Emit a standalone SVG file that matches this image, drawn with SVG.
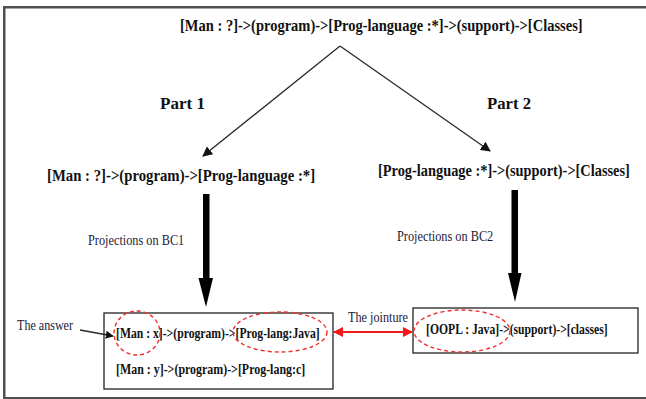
<svg xmlns="http://www.w3.org/2000/svg" width="646" height="399" viewBox="0 0 646 399">
<style>
.big{font-family:"Liberation Serif","Times New Roman",serif;font-weight:bold;fill:#111;}
.lbl{font-family:"Liberation Serif","Times New Roman",serif;fill:#1e1838;}
.box{fill:#fff;stroke:#222;stroke-width:1.3;}
.ell{fill:none;stroke:#f03030;stroke-width:1.4;stroke-dasharray:4 3;}
.thin{stroke:#2a2a2a;stroke-width:1.3;fill:none;}
</style>
<defs>
<marker id="ah" viewBox="0 0 10 10" refX="9" refY="5" markerWidth="10" markerHeight="10" markerUnits="userSpaceOnUse" orient="auto"><path d="M0,0 L10,5 L0,10 Z" fill="#111"/></marker>
<marker id="ahs" viewBox="0 0 10 10" refX="9" refY="5" markerWidth="8" markerHeight="8" markerUnits="userSpaceOnUse" orient="auto"><path d="M0,0 L10,5 L0,10 Z" fill="#111"/></marker>
<marker id="rh" viewBox="0 0 10 10" refX="9" refY="5" markerWidth="10" markerHeight="10" markerUnits="userSpaceOnUse" orient="auto-start-reverse"><path d="M0,0 L10,5 L0,10 Z" fill="#f01818"/></marker>
</defs>
<rect x="4.25" y="7.25" width="645" height="391" fill="#fff" stroke="#505050" stroke-width="2.5"/>

<g id="top-query"><text class="big" transform="translate(180,31) scale(0.853,1)" font-size="17" textLength="472" lengthAdjust="spacingAndGlyphs">[Man : ?]-&gt;(program)-&gt;[Prog-language :*]-&gt;(support)-&gt;[Classes]</text></g>
<g id="part1"><text class="big" x="160" y="109" font-size="16" textLength="45" lengthAdjust="spacingAndGlyphs">Part 1</text></g>
<g id="part2"><text class="big" x="487" y="109" font-size="16" textLength="44" lengthAdjust="spacingAndGlyphs">Part 2</text></g>
<g id="query1"><text class="big" transform="translate(47,181) scale(0.865,1)" font-size="17" textLength="310" lengthAdjust="spacingAndGlyphs">[Man : ?]-&gt;(program)-&gt;[Prog-language :*]</text></g>
<g id="query2"><text class="big" transform="translate(378,176) scale(0.845,1)" font-size="17" textLength="298" lengthAdjust="spacingAndGlyphs">[Prog-language :*]-&gt;(support)-&gt;[Classes]</text></g>
<g id="proj1"><text class="lbl" transform="translate(88,245) scale(0.875,1)" font-size="14" textLength="110" lengthAdjust="spacingAndGlyphs">Projections on BC1</text></g>
<g id="proj2"><text class="lbl" transform="translate(397,241) scale(0.875,1)" font-size="14" textLength="110" lengthAdjust="spacingAndGlyphs">Projections on BC2</text></g>
<g id="answer-label"><text class="lbl" x="17" y="330" font-size="14" textLength="56" lengthAdjust="spacingAndGlyphs">The answer</text></g>
<g id="jointure-label"><text class="lbl" x="348" y="322" font-size="14" textLength="60" lengthAdjust="spacingAndGlyphs">The jointure</text></g>

<g id="result1">
<rect class="box" x="104" y="313" width="229" height="76"/>
<text class="big" transform="translate(116,338) scale(0.805,1)" font-size="14.5" textLength="253" lengthAdjust="spacingAndGlyphs">[Man : x]-&gt;(program)-&gt;[Prog-lang:Java]</text>
<text class="big" transform="translate(116,374) scale(0.819,1)" font-size="14.5" textLength="231" lengthAdjust="spacingAndGlyphs">[Man : y]-&gt;(program)-&gt;[Prog-lang:c]</text>
<ellipse class="ell" cx="137" cy="333" rx="23" ry="22"/>
<ellipse class="ell" cx="280" cy="332" rx="47" ry="20"/>
</g>
<g id="result2">
<rect class="box" x="413" y="308" width="225" height="45"/>
<text class="big" transform="translate(426,334) scale(0.80,1)" font-size="14.5" textLength="227" lengthAdjust="spacingAndGlyphs">[OOPL : Java]-&gt;(support)-&gt;[classes]</text>
<ellipse class="ell" cx="462" cy="331" rx="48" ry="21"/>
</g>

<g id="connectors">
<line class="thin" x1="340" y1="46" x2="203" y2="156" marker-end="url(#ah)"/>
<line class="thin" x1="340" y1="46" x2="490" y2="151" marker-end="url(#ah)"/>
<path d="M203,194 H209.5 V278 H213 L206,307 L198.5,278 H203 Z" fill="#000"/>
<path d="M511.5,190 H518 V273 H521.5 L515,302 L508,273 H511.5 Z" fill="#000"/>
<line class="thin" x1="80" y1="330" x2="113" y2="336" marker-end="url(#ahs)"/>
<line x1="334" y1="332" x2="412" y2="332" stroke="#f01818" stroke-width="1.8" marker-start="url(#rh)" marker-end="url(#rh)"/>
</g>
</svg>
